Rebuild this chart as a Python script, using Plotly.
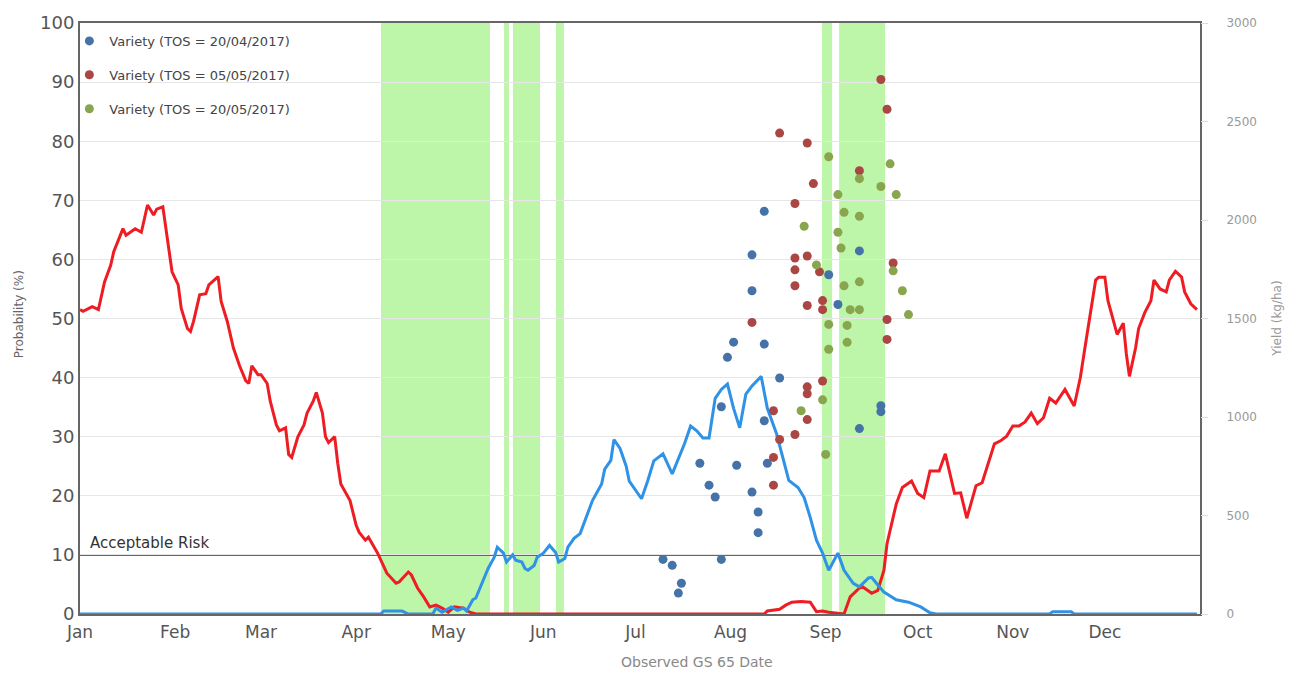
import pandas as pd
import plotly.graph_objects as go

YEAR_START = pd.Timestamp("2017-01-01")


def to_dates(days):
    """Day offsets from 1 January 2017 -> timestamps."""
    return [YEAR_START + pd.Timedelta(days=float(d)) for d in days]


# ---- Probability curves (%), indexed by day offset from 1 Jan ----
red_day = [0, 1, 4, 6, 8, 10, 11, 14, 15, 18, 20, 22, 24, 25, 27, 30, 32, 33, 35, 36,
           37, 39, 41, 42, 45, 46, 48, 50, 52, 54, 55, 56, 58, 59, 61, 62, 64, 65, 67,
           68, 69, 71, 73, 74, 76, 77, 79, 80, 81, 83, 84, 85, 88, 90, 91, 93, 94, 97,
           100, 103, 104, 107, 108, 110, 112, 114, 116, 118, 120, 122, 125, 127, 129,
           223, 224, 226, 228, 230, 232, 235, 238, 240, 242, 244, 248, 249, 251, 254,
           255, 258, 260, 262, 263, 266, 268, 271, 273, 275, 277, 280, 282, 285, 287,
           289, 292, 294, 298, 300, 302, 304, 306, 308, 310, 312, 314, 316, 318, 321,
           324, 326, 328, 330, 331, 332, 334, 335, 337, 338, 340, 341, 342, 344, 345,
           347, 349, 350, 352, 354, 355, 357, 359, 360, 362, 364]
red_prob = [51.5, 51.2, 52, 51.5, 56.2, 59, 61.3, 65.2, 64.1, 65.2, 64.6, 69.2, 67.5, 68.5,
            68.9, 57.9, 55.7, 51.7, 48.3, 47.8, 49.5, 54, 54.2, 55.7, 57.1, 52.9, 49.5, 45,
            42, 39.5, 39, 42, 40.5, 40.5, 39, 36, 32, 31, 31.5, 27, 26.5, 30, 32, 34, 36,
            37.5, 34, 30, 29, 30, 25.5, 22, 19.2, 15, 13.8, 12.5, 13, 10.3, 6.9, 5.2, 5.4,
            7.1, 6.6, 4.4, 2.9, 1.2, 1.5, 1, 0.3, 1.2, 1, 0.3, 0,
            0, 0.5, 0.6, 0.8, 1.5, 2, 2.1, 2, 0.4, 0.5, 0.3, 0, 0, 2.9, 4.4,
            4.6, 3.5, 4, 7.4, 11.9, 18.6, 21.4, 22.5, 20.4, 19.7, 24.2, 24.2, 27.1, 20.4,
            20.5, 16.2, 21.7, 22.2, 28.8, 29.3, 30.1, 31.8, 31.8, 32.5, 34, 32.2, 33.2,
            36.5, 35.7, 38, 35.2, 40, 46.7, 53, 56.5, 57, 57, 53, 49.5, 47.3, 49.2, 44,
            40.2, 45, 48.3, 51, 53, 56.5, 55, 54.5, 56.5, 58, 57, 54.5, 52.5, 51.5]

blue_day = [0, 98, 99, 105, 107, 115, 116, 118, 121, 123, 125, 126, 128, 129, 131, 133,
            135, 136, 138, 139, 141, 142, 144, 145, 146, 148, 149, 151, 153, 155, 156,
            158, 159, 161, 163, 165, 167, 170, 171, 173, 174, 176, 178, 179, 181, 183,
            185, 187, 190, 193, 197, 199, 201, 203, 205, 207, 209, 211, 213, 215, 217,
            219, 222, 224, 227, 229, 231, 234, 236, 238, 240, 242, 244, 247, 249, 252,
            254, 257, 258, 260, 262, 266, 270, 274, 277, 279, 316, 317, 323, 324, 364]
blue_prob = [0, 0, 0.5, 0.5, 0, 0, 1, 0.3, 1.2, 0.6, 1, 0.5, 2.4, 2.7, 5.2, 7.7,
             9.6, 11.3, 10.3, 8.8, 10, 9.1, 8.8, 7.7, 7.4, 8.2, 9.6, 10.3, 11.6, 10.4, 8.8,
             9.4, 11.3, 12.8, 13.6, 16.3, 19.2, 22, 24.5, 26, 29.5, 28, 25, 22.5, 21, 19.5,
             22.5, 25.9, 27.1, 23.7, 28.8, 31.8, 31, 29.8, 29.8, 36.5, 38, 38.9, 34.8, 31.5,
             37.2, 38.6, 40.2, 34.8, 30.5, 26.4, 22.6, 21.4, 19.7, 16.3, 12.5, 10.3, 7.4,
             10.3, 7.4, 5.2, 4.6, 6.1, 6.2, 4.9, 3.7, 2.4, 2, 1.2, 0.2, 0, 0, 0.4, 0.4, 0, 0]

# ---- Observed GS 65 yields (kg/ha) per time of sowing ----
tos1_date = ["2017-07-10", "2017-07-13", "2017-07-16", "2017-07-15", "2017-07-22",
             "2017-07-25", "2017-07-27", "2017-07-29", "2017-07-29", "2017-07-31",
             "2017-08-02", "2017-08-03", "2017-08-08", "2017-08-08", "2017-08-08",
             "2017-08-10", "2017-08-10", "2017-08-12", "2017-08-12", "2017-08-12",
             "2017-08-13", "2017-08-17", "2017-09-02", "2017-09-05", "2017-09-12",
             "2017-09-12", "2017-09-19", "2017-09-19"]
tos1_yield = [277, 247, 156, 106, 765, 654, 594, 1052, 277, 1303, 1380, 755, 1823, 1641,
              619, 518, 413, 1370, 981, 2044, 765, 1198, 1722, 1571, 1843, 941, 1057, 1027]

tos2_date = ["2017-08-17", "2017-08-26", "2017-09-19", "2017-09-21", "2017-08-28",
             "2017-08-22", "2017-09-12", "2017-08-22", "2017-08-26", "2017-08-22",
             "2017-08-30", "2017-08-22", "2017-08-26", "2017-08-31", "2017-08-31",
             "2017-08-08", "2017-09-23", "2017-09-21", "2017-09-21", "2017-08-31",
             "2017-08-26", "2017-08-26", "2017-08-15", "2017-08-26", "2017-08-22",
             "2017-08-17", "2017-08-15", "2017-08-15"]
tos2_yield = [2441, 2391, 2713, 2562, 2185, 2084, 2250, 1807, 1817, 1747, 1737, 1666,
              1566, 1591, 1545, 1480, 1782, 1495, 1394, 1183, 1153, 1118, 1032, 987, 911,
              886, 795, 654]

tos3_date = ["2017-09-02", "2017-09-22", "2017-09-12", "2017-09-19", "2017-09-24",
             "2017-09-05", "2017-09-07", "2017-09-12", "2017-08-25", "2017-09-05",
             "2017-09-06", "2017-08-29", "2017-09-23", "2017-09-07", "2017-09-12",
             "2017-09-26", "2017-09-09", "2017-09-12", "2017-09-28", "2017-09-02",
             "2017-09-08", "2017-09-08", "2017-09-02", "2017-08-31", "2017-08-24",
             "2017-09-01"]
tos3_yield = [2321, 2285, 2210, 2170, 2129, 2129, 2039, 2019, 1968, 1938, 1858, 1772,
              1742, 1666, 1686, 1641, 1545, 1545, 1520, 1470, 1465, 1379, 1344, 1087,
              1032, 810]

series_names = ["Variety (TOS = 20/04/2017)", "Variety (TOS = 05/05/2017)",
                "Variety (TOS = 20/05/2017)"]

# ---- Highlighted windows (day offsets) ----
band_start = [98.1, 138.2, 141.1, 155.1, 241.8, 247.4]
band_end = [133.6, 139.8, 149.9, 157.7, 245.1, 262.4]

acceptable_risk = 10

# month-start ticks for the year shown
month_ticks = pd.date_range("2017-01-01", "2017-12-01", freq="MS")

FONT = "DejaVu Sans"

fig = go.Figure()

fig.add_trace(go.Scatter(x=to_dates(red_day), y=red_prob, mode="lines",
                         line=dict(color="#ee1d23", width=3), showlegend=False,
                         hoverinfo="skip"))
fig.add_trace(go.Scatter(x=to_dates(blue_day), y=blue_prob, mode="lines",
                         line=dict(color="#2f92e6", width=3), showlegend=False,
                         hoverinfo="skip"))

for name, xs, ys, col in [
    (series_names[0], tos1_date, tos1_yield, "#4572A7"),
    (series_names[1], tos2_date, tos2_yield, "#AA4643"),
    (series_names[2], tos3_date, tos3_yield, "#89A54E"),
]:
    fig.add_trace(go.Scatter(x=pd.to_datetime(xs), y=ys, mode="markers", name=name,
                             legendgroup=name, yaxis="y2",
                             marker=dict(color=col, size=9, line=dict(width=0))))

shapes = []
for s, e in zip(to_dates(band_start), to_dates(band_end)):
    shapes.append(dict(type="rect", xref="x", yref="paper", x0=s, x1=e, y0=0, y1=1,
                       fillcolor="#bdf5a9", line=dict(width=0), layer="below"))
# white panel behind the legend entries
shapes.append(dict(type="rect", xref="paper", yref="y", x0=0, x1=0.222, y0=83, y1=100,
                   fillcolor="white", line=dict(width=0), layer="between"))
shapes.append(dict(type="line", xref="paper", yref="y", x0=0, x1=1,
                   y0=acceptable_risk, y1=acceptable_risk,
                   line=dict(color="#666666", width=2), layer="between"))

annotations = [
    dict(text="Acceptable Risk", xref="paper", yref="y", x=0.007, y=acceptable_risk,
         xanchor="left", yanchor="bottom", showarrow=False, yshift=1,
         font=dict(family=FONT, size=15, color="#333333")),
    dict(text="Observed GS 65 Date", xref="paper", yref="paper", x=0.551, y=-0.082,
         xanchor="center", yanchor="middle", showarrow=False,
         font=dict(family=FONT, size=14, color="#888888")),
    dict(text="Probability (%)", xref="paper", yref="paper", x=-0.055, y=0.508,
         xanchor="center", yanchor="middle", showarrow=False, textangle=-90,
         font=dict(family=FONT, size=12, color="#666666")),
    dict(text="Yield (kg/ha)", xref="paper", yref="paper", x=1.068, y=0.50,
         xanchor="center", yanchor="middle", showarrow=False, textangle=-90,
         font=dict(family=FONT, size=12, color="#999999")),
]

fig.update_layout(
    width=1293, height=673,
    margin=dict(l=80, r=93, t=20, b=59),
    paper_bgcolor="white", plot_bgcolor="white",
    shapes=shapes, annotations=annotations,
    legend=dict(x=-0.0095, xanchor="left", y=0.995, yanchor="top",
                bgcolor="rgba(0,0,0,0)", tracegroupgap=14,
                font=dict(family=FONT, size=13, color="#444444")),
    xaxis=dict(type="date", range=["2017-01-01", "2018-01-01"], tickmode="array",
               tickvals=month_ticks, tickformat="%b", showgrid=False, zeroline=False,
               showline=True, linecolor="#666666", linewidth=2, mirror=True,
               layer="below traces", ticklabelstandoff=2,
               tickfont=dict(family=FONT, size=17, color="#555555")),
    yaxis=dict(range=[0, 100], dtick=10, showgrid=True, gridcolor="#e6e6e6",
               zeroline=False, showline=True, linecolor="#666666", linewidth=2,
               mirror=True, ticks="",
               tickfont=dict(family=FONT, size=18, color="#555555")),
    yaxis2=dict(range=[0, 3000], dtick=500, overlaying="y", side="right",
                showgrid=False, zeroline=False, showline=False, ticks="outside",
                ticklen=7, tickcolor="#dddddd", ticklabelstandoff=16,
                tickfont=dict(family=FONT, size=12, color="#999999")),
)

fig.write_html("out.html")
